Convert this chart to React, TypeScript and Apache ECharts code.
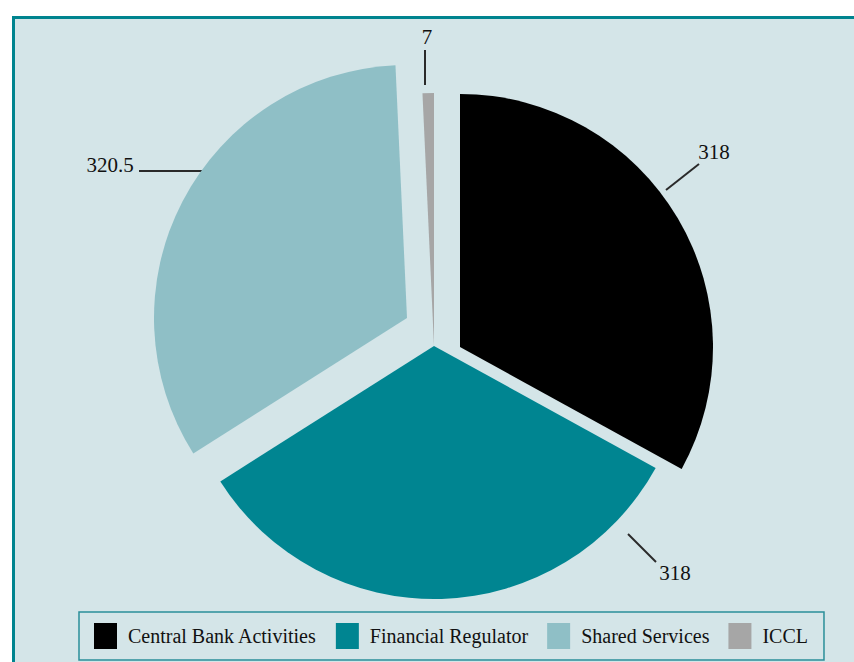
import React, { useEffect, useRef } from "react";
import * as echarts from "echarts";

// ---- data ----
const categories = ["Central Bank Activities", "Financial Regulator", "Shared Services", "ICCL"];
const values = [318, 318, 320.5, 7];
const colors = ["#000000", "#008591", "#8fbfc6", "#a6a6a6"];

// ---- layout (exploded slice centres, leader lines) ----
const SLICE_CENTERS: number[][] = [
  [460, 347],
  [434, 346],
  [407, 318],
  [434, 346],
];
const RADIUS = 253;
const LABEL_POS: { text: number[]; line: number[][] }[] = [
  { text: [714, 152], line: [[666, 190], [699, 164]] },
  { text: [675, 573], line: [[628, 534], [656, 562]] },
  { text: [110, 165], line: [[203, 171], [139, 171]] },
  { text: [427, 37], line: [[425, 85], [425, 50]] },
];

const FONT = "'Liberation Serif', 'DejaVu Serif', serif";

export default function App() {
  const ref = useRef<HTMLDivElement>(null);
  useEffect(() => {
    if (!ref.current) return;
    const chart = echarts.init(ref.current, undefined, { renderer: "svg" });
    const series = categories.map((_, i) => ({
      type: "pie",
      silent: true,
      center: SLICE_CENTERS[i],
      radius: [0, RADIUS],
      startAngle: 90,
      clockwise: true,
      avoidLabelOverlap: false,
      label: {
        position: "outside",
        formatter: "{c}",
        fontFamily: FONT,
        fontSize: 21,
        color: "#111111",
      },
      labelLine: {
        lineStyle: { color: "#2a2a2a", width: 2 },
      },
      labelLayout: (p: any) => {
        if (p.dataIndex !== i) return {};
        const lp = LABEL_POS[i];
        const a = lp.line[0];
        const b = lp.line[1];
        return {
          x: lp.text[0],
          y: lp.text[1],
          align: "center",
          verticalAlign: "middle",
          labelLinePoints: [a, [(a[0] + b[0]) / 2, (a[1] + b[1]) / 2], b],
        };
      },
      emphasis: { disabled: true },
      data: categories.map((name, j) => ({
        name,
        value: values[j],
        itemStyle: { color: j === i ? colors[j] : "rgba(0,0,0,0)" },
        label: { show: j === i },
        labelLine: { show: j === i },
      })),
    }));

    chart.setOption({
      animation: false,
      graphic: [
        {
          type: "rect",
          z: -10,
          silent: true,
          shape: { x: 13.5, y: 17.5, width: 900, height: 700 },
          style: { fill: "#d4e5e8", stroke: "#00848f", lineWidth: 3 },
        },
      ],
      legend: {
        left: 79,
        top: 612,
        orient: "horizontal",
        selectedMode: false,
        icon: "rect",
        itemWidth: 23,
        itemHeight: 26,
        itemGap: 19,
        padding: [11, 16, 11, 15],
        borderColor: "#2a8f99",
        borderWidth: 1.5,
        backgroundColor: "#d4e5e8",
        textStyle: {
          fontFamily: FONT,
          fontSize: 20,
          color: "#111111",
          padding: [0, 0, 0, 6],
        },
        data: categories.map((name, j) => ({ name, itemStyle: { color: colors[j] } })),
      },
      series,
    } as any);
    return () => chart.dispose();
  }, []);
  return (
    <div
      ref={ref}
      style={{ position: "absolute", left: 0, top: 0, width: 854, height: 662, background: "#ffffff" }}
    />
  );
}
